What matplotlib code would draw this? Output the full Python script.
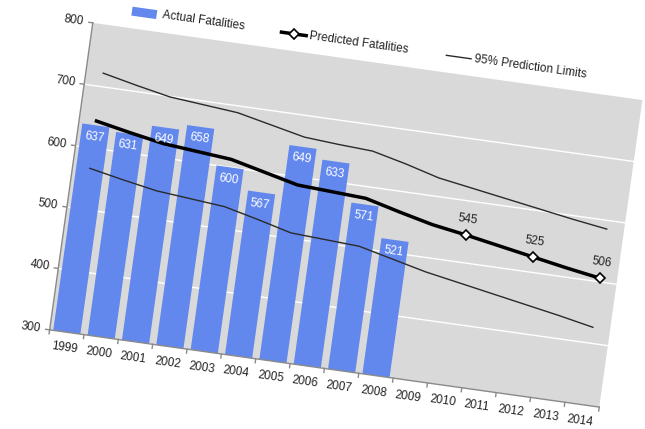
import matplotlib
matplotlib.use('Agg')
import matplotlib.pyplot as plt
from matplotlib.transforms import Affine2D, blended_transform_factory
from matplotlib.patches import Rectangle, Polygon

plt.rcParams['font.family'] = ['Liberation Sans', 'DejaVu Sans']

# данные
years = ['1999', '2000', '2001', '2002', '2003', '2004', '2005', '2006',
         '2007', '2008', '2009', '2010', '2011', '2012', '2013', '2014']
actual = [637, 631, 649, 658, 600, 567, 649, 633, 571, 521]
predicted = [644, 633, 623, 618, 613, 600, 587, 584, 581, 567, 554,
             545, 535, 525, 515, 506]
upper = [722, 710, 699, 694, 689, 677, 665, 661, 658, 645, 630,
         621, 612, 603, 594, 586]
lower = [567, 556, 546, 541, 536, 523, 509, 506, 503, 490, 477,
         467, 457, 447, 437, 426]
labeled_years = ['2010', '2012', '2014']
yticks = [300, 400, 500, 600, 700, 800]

BLUE = '#6288ee'
GRAY_BG = '#d9d9d9'
AXIS = '#8a8a8a'
ANG = -8
FS = 8.5

W, H = 645, 429
fig = plt.figure(figsize=(W / 100, H / 100), dpi=100)
ax = fig.add_axes([68.5 / W, 59 / H, 555 / W, 310 / H])
ax.set_xlim(0, len(years))
ax.set_ylim(yticks[0], yticks[-1])
ax.axis('off')

# весь график повернут примерно на 8 градусов по часовой
rot = Affine2D().rotate_deg_around(346.25, 214, ANG)
tdata = ax.transData + rot
taxes = ax.transAxes + rot
tx = blended_transform_factory(ax.transData, ax.transAxes) + rot
ty = blended_transform_factory(ax.transAxes, ax.transData) + rot

# фон области построения (Polygon, чтобы обрезка шла по повернутой рамке)
bg = Polygon([[0, 0], [1, 0], [1, 1], [0, 1]], closed=True, transform=taxes,
             facecolor=GRAY_BG, edgecolor='none', clip_on=False, zorder=0)
ax.add_patch(bg)

# сетка
for v in yticks[1:-1]:
    ax.plot([0, 1], [v, v], transform=ty, color='white', lw=1,
            clip_on=False, zorder=1)

# столбцы
xb = [i + 0.5 for i in range(len(actual))]
bars = ax.bar(xb, actual, width=0.79, color=BLUE, zorder=2)
for r in bars:
    r.set_transform(tdata)
    r.set_clip_box(None)
    r.set_clip_path(bg)
for x, v in zip(xb, actual):
    ax.text(x, v, str(v), transform=ax.transData + Affine2D().translate(0, -12) + rot,
            color='white', fontsize=FS, ha='center', va='center',
            rotation=ANG, rotation_mode='anchor', zorder=5)

# линии прогноза
xl = [i + 0.5 for i in range(len(years))]
ax.plot(xl, upper, transform=tdata, color='#2a2a2a', lw=1, clip_on=False, zorder=3)
ax.plot(xl, lower, transform=tdata, color='#2a2a2a', lw=1, clip_on=False, zorder=3)
ax.plot(xl, predicted, transform=tdata, color='black', lw=2.5, clip_on=False, zorder=4)

idx = [years.index(y) for y in labeled_years]
xm = [xl[i] for i in idx]
vm = [predicted[i] for i in idx]
ax.plot(xm, vm, 'D', transform=tdata, mfc='white', mec='black', mew=1.2, ms=5,
        clip_on=False, zorder=6)
for x, v in zip(xm, vm):
    ax.text(x, v, str(v), transform=ax.transData + Affine2D().translate(0, 16) + rot,
            color='#222222', fontsize=FS, ha='center', va='center',
            rotation=ANG, rotation_mode='anchor', zorder=6)

# оси
ax.plot([0, 0], [0, 1], transform=taxes, color=AXIS, lw=1, clip_on=False, zorder=3)
ax.plot([0, 1], [0, 0], transform=taxes, color=AXIS, lw=1, clip_on=False, zorder=3)
for i in range(len(years) + 1):
    ax.plot([i, i], [0, -4 / 310], transform=tx, color=AXIS, lw=1, clip_on=False)
for v in yticks:
    ax.plot([-4 / 555, 0], [v, v], transform=ty, color=AXIS, lw=1, clip_on=False)
    ax.text(-9 / 555, v, str(v), transform=ty, ha='right', va='center',
            fontsize=FS, color='#222222', rotation=ANG, rotation_mode='anchor')
for i, y in enumerate(years):
    ax.text(i + 0.5, -16 / 310, y, transform=tx, ha='center', va='center',
            fontsize=FS, color='#222222', rotation=ANG, rotation_mode='anchor')

# легенда
ly = 1.055
ax.add_patch(Rectangle((0.067, ly - 0.0145), 0.045, 0.029, transform=taxes,
                       facecolor=BLUE, edgecolor='none', clip_on=False))
ax.text(0.123, ly, 'Actual Fatalities', transform=taxes, ha='left', va='center',
        fontsize=FS, color='#222222', rotation=ANG, rotation_mode='anchor')
ax.plot([0.339, 0.384], [ly, ly], transform=taxes, color='black', lw=2.5, clip_on=False)
ax.plot([0.3615], [ly], 'D', transform=taxes, mfc='white', mec='black', mew=1.2,
        ms=5, clip_on=False)
ax.text(0.389, ly, 'Predicted Fatalities', transform=taxes, ha='left', va='center',
        fontsize=FS, color='#222222', rotation=ANG, rotation_mode='anchor')
ax.plot([0.639, 0.684], [ly, ly], transform=taxes, color='#2a2a2a', lw=1, clip_on=False)
ax.text(0.69, ly, '95% Prediction Limits', transform=taxes, ha='left', va='center',
        fontsize=FS, color='#222222', rotation=ANG, rotation_mode='anchor')

plt.savefig('out.png', dpi=100)
